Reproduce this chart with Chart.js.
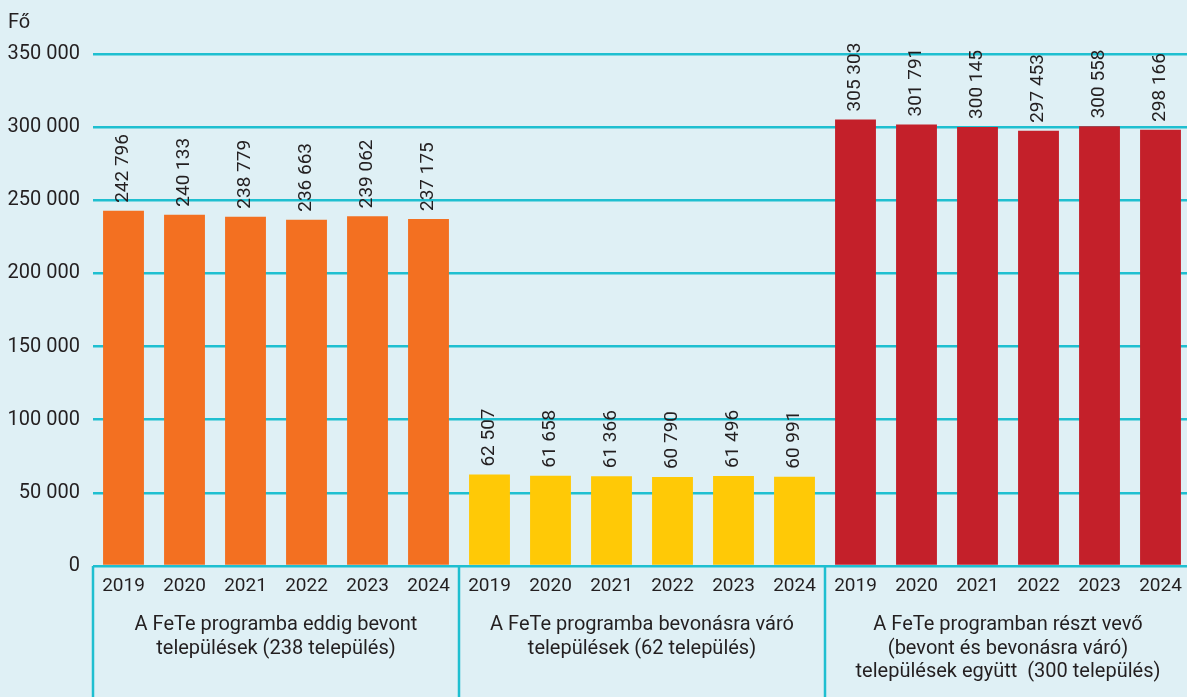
<!DOCTYPE html>
<html>
<head>
<meta charset="utf-8">
<script src="https://cdn.jsdelivr.net/npm/chart.js@4/dist/chart.umd.min.js"></script>
<style>
  html, body { margin: 0; padding: 0; background: #dff0f5; overflow: hidden; }
  #wrap { width: 1187px; height: 697px; position: relative; overflow: hidden; }
</style>
</head>
<body>
<div id="wrap"><canvas id="chart" width="1191" height="697"></canvas></div>
<script>
const years = ['2019', '2020', '2021', '2022', '2023', '2024'];
const bevont = [242796, 240133, 238779, 236663, 239062, 237175];
const varo = [62507, 61658, 61366, 60790, 61496, 60991];
const egyutt = [305303, 301791, 300145, 297453, 300558, 298166];
const groupNames = [
  ['A FeTe programba eddig bevont', 'települések (238 település)'],
  ['A FeTe programba bevonásra váró', 'települések (62 település)'],
  ['A FeTe programban részt vevő', '(bevont és bevonásra váró)', 'települések együtt  (300 település)']
];
const groupColors = ['#f37021', '#ffc906', '#c4202a'];
const yTicks = [0, 50000, 100000, 150000, 200000, 250000, 300000, 350000];

const font = 'Roboto, "DejaVu Sans", sans-serif';
const textColor = '#231f20';
const lineColor = '#1fbfd0';

const series = [bevont, varo, egyutt];
const labels = series.flatMap(() => years);
const values = series.flat();
const colors = series.flatMap((s, g) => s.map(() => groupColors[g]));

const fmt = v => String(v).replace(/\B(?=(\d{3})+(?!\d))/g, ' ');

const valueLabels = {
  id: 'valueLabels',
  afterDatasetsDraw(chart) {
    const ctx = chart.ctx;
    const meta = chart.getDatasetMeta(0);
    ctx.save();
    ctx.fillStyle = textColor;
    ctx.font = '19px ' + font;
    ctx.textAlign = 'left';
    ctx.textBaseline = 'middle';
    meta.data.forEach((bar, i) => {
      ctx.save();
      ctx.translate(bar.x, bar.y - 8);
      ctx.rotate(-Math.PI / 2);
      ctx.fillText(fmt(values[i]), 0, 0);
      ctx.restore();
    });
    ctx.restore();
  }
};

const groupAxis = {
  id: 'groupAxis',
  afterDraw(chart) {
    const ctx = chart.ctx;
    const x = chart.scales.x;
    const area = chart.chartArea;
    const slot = (x.right - x.left) / labels.length;
    ctx.save();
    ctx.strokeStyle = lineColor;
    ctx.lineWidth = 2.5;
    for (let g = 0; g < groupNames.length; g++) {
      const gx = x.left + g * years.length * slot;
      ctx.beginPath();
      ctx.moveTo(gx, area.bottom);
      ctx.lineTo(gx, chart.height);
      ctx.stroke();
    }
    ctx.fillStyle = textColor;
    ctx.font = '20px ' + font;
    ctx.textAlign = 'center';
    ctx.textBaseline = 'middle';
    groupNames.forEach((lines, g) => {
      const cx = x.left + (g + 0.5) * years.length * slot;
      lines.forEach((t, k) => ctx.fillText(t, cx, area.bottom + 59 + k * 23.5));
    });
    ctx.textAlign = 'left';
    ctx.textBaseline = 'alphabetic';
    ctx.fillText('Fő', 8, 28);
    ctx.restore();
  }
};

new Chart(document.getElementById('chart'), {
  type: 'bar',
  data: {
    labels: labels,
    datasets: [{
      data: values,
      backgroundColor: colors,
      categoryPercentage: 1,
      barPercentage: 0.67
    }]
  },
  options: {
    responsive: false,
    animation: false,
    layout: { padding: { top: 54, right: 0, left: 0, bottom: 0 } },
    plugins: { legend: { display: false }, tooltip: { enabled: false } },
    scales: {
      x: {
        grid: { display: false, drawTicks: false },
        border: { display: false },
        ticks: { color: textColor, font: { family: font, size: 19 }, padding: 9, maxRotation: 0, autoSkip: false },
        afterFit(scale) { scale.height = 131; }
      },
      y: {
        min: 0,
        max: 350000,
        afterBuildTicks(scale) { scale.ticks = yTicks.map(v => ({ value: v })); },
        grid: { color: lineColor, lineWidth: 2.5, drawTicks: false },
        border: { display: false },
        ticks: { color: textColor, font: { family: font, size: 20 }, padding: 13, callback: v => fmt(v) },
        afterFit(scale) { scale.width = 93; }
      }
    }
  },
  plugins: [valueLabels, groupAxis]
});
</script>
</body>
</html>
